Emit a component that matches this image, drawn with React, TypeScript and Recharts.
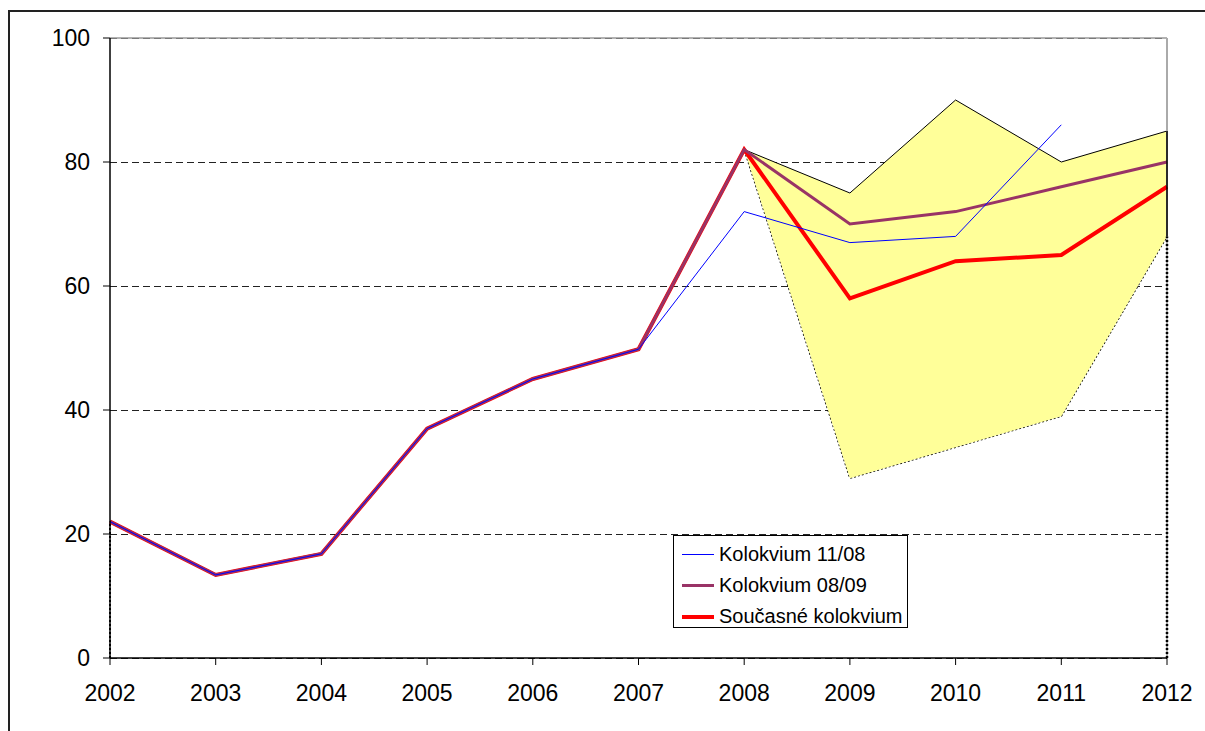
import React from "react";
import {
  ComposedChart,
  Line,
  Area,
  XAxis,
  YAxis,
  CartesianGrid,
  ReferenceLine,
  Legend,
} from "recharts";

const years = [2002, 2003, 2004, 2005, 2006, 2007, 2008, 2009, 2010, 2011, 2012];
const kolokvium1108: (number | null)[] = [22, 13.4, 16.8, 37, 45, 49.8, 72, 67, 68, 86, null];
const kolokvium0809 = [22, 13.4, 16.8, 37, 45, 49.8, 82, 70, 72, 76, 80];
const soucasne = [22, 13.4, 16.8, 37, 45, 49.8, 82, 58, 64, 65, 76];
const rangeLow = [22, 13.4, 16.8, 37, 45, 49.8, 82, 29, 34, 39, 68];
const rangeHigh = [22, 13.4, 16.8, 37, 45, 49.8, 82, 75, 90, 80, 85];
const yTicks = [0, 20, 40, 60, 80, 100];

const seriesNames = ["Kolokvium 11/08", "Kolokvium 08/09", "Současné kolokvium"];
const seriesColors = ["#0000FF", "#993366", "#FF0000"];
const seriesWidths = [1, 3, 4];

const data = years.map((year, i) => ({
  year,
  k1108: kolokvium1108[i],
  k0809: kolokvium0809[i],
  cur: soucasne[i],
  low: rangeLow[i],
  band: rangeHigh[i] - rangeLow[i],
}));

const firstYear = years[0];
const lastYear = years[years.length - 1];
const lastIdx = years.length - 1;

const FONT = "'Liberation Sans', Arial, sans-serif";

const LegendBox = () => (
  <div
    style={{
      width: 235,
      height: 93,
      boxSizing: "border-box",
      border: "1px solid #000",
      background: "#fff",
      paddingTop: 3,
      fontFamily: FONT,
      fontSize: 20,
      color: "#000",
    }}
  >
    {seriesNames.map((name, i) => (
      <div key={name} style={{ display: "flex", alignItems: "center", height: 31 }}>
        <div
          style={{
            marginLeft: 8,
            width: 32,
            height: seriesWidths[i],
            background: seriesColors[i],
          }}
        />
        <span style={{ marginLeft: 5, whiteSpace: "nowrap" }}>{name}</span>
      </div>
    ))}
  </div>
);

export default function App() {
  return (
    <div
      style={{
        position: "fixed",
        left: 0,
        top: 0,
        width: 1205,
        height: 731,
        overflow: "hidden",
        background: "#fff",
      }}
    >
      <div
        style={{
          position: "absolute",
          left: 8,
          top: 10,
          width: 1300,
          height: 900,
          border: "2px solid #222",
        }}
      />
      <div style={{ position: "absolute", left: 0, top: 0 }}>
        <ComposedChart
          width={1205}
          height={731}
          data={data}
          margin={{ top: 38, right: 38, bottom: 43, left: 0 }}
        >
          <CartesianGrid
            horizontal={true}
            vertical={false}
            stroke="#222"
            strokeDasharray="7 4"
            shapeRendering="crispEdges"
          />
          <XAxis
            dataKey="year"
            type="number"
            domain={[firstYear, lastYear]}
            ticks={years}
            interval={0}
            height={30}
            tickSize={7}
            tickMargin={20}
            axisLine={{ stroke: "#000", strokeWidth: 1.5 }}
            tickLine={{ stroke: "#000" }}
            tick={{ fill: "#000", fontSize: 23, fontFamily: FONT }}
          />
          <YAxis
            type="number"
            domain={[0, 100]}
            ticks={yTicks}
            width={110}
            tickSize={7}
            tickMargin={13}
            axisLine={{ stroke: "#000", strokeWidth: 1.5 }}
            tickLine={{ stroke: "#000" }}
            tick={{ fill: "#000", fontSize: 23, fontFamily: FONT }}
          />
          <ReferenceLine y={100} stroke="#999" strokeWidth={1.5} />
          <ReferenceLine x={lastYear} stroke="#aaa" strokeWidth={2} />
          <Area
            type="linear"
            dataKey="low"
            stackId="range"
            fill="none"
            stroke="#000"
            strokeWidth={1.5}
            strokeDasharray="2 2"
            isAnimationActive={false}
            legendType="none"
          />
          <Area
            type="linear"
            dataKey="band"
            stackId="range"
            fill="#FFFF99"
            fillOpacity={1}
            stroke="#000"
            strokeWidth={1}
            isAnimationActive={false}
            legendType="none"
          />
          <Line
            type="linear"
            dataKey="cur"
            name={seriesNames[2]}
            stroke={seriesColors[2]}
            strokeWidth={seriesWidths[2]}
            dot={false}
            activeDot={false}
            isAnimationActive={false}
          />
          <Line
            type="linear"
            dataKey="k0809"
            name={seriesNames[1]}
            stroke={seriesColors[1]}
            strokeWidth={seriesWidths[1]}
            dot={false}
            activeDot={false}
            isAnimationActive={false}
          />
          <Line
            type="linear"
            dataKey="k1108"
            name={seriesNames[0]}
            stroke={seriesColors[0]}
            strokeWidth={seriesWidths[0]}
            dot={false}
            activeDot={false}
            isAnimationActive={false}
          />
          <ReferenceLine
            segment={[
              { x: firstYear, y: 0 },
              { x: firstYear, y: rangeLow[0] },
            ]}
            stroke="#000"
            strokeWidth={2}
            strokeDasharray="2 2"
            ifOverflow="visible"
            zIndex={700}
          />
          <ReferenceLine
            segment={[
              { x: lastYear, y: 0 },
              { x: lastYear, y: rangeLow[lastIdx] },
            ]}
            stroke="#000"
            strokeWidth={2.5}
            strokeDasharray="2 2"
            ifOverflow="visible"
            zIndex={700}
          />
          <ReferenceLine
            segment={[
              { x: lastYear, y: rangeLow[lastIdx] },
              { x: lastYear, y: rangeHigh[lastIdx] },
            ]}
            stroke="#000"
            strokeWidth={1.5}
            ifOverflow="visible"
            zIndex={700}
          />
          <Legend
            layout="vertical"
            align="center"
            verticalAlign="middle"
            content={() => <LegendBox />}
            wrapperStyle={{ position: "absolute", left: 673, top: 535, width: 235, height: 93 }}
          />
        </ComposedChart>
      </div>
    </div>
  );
}
